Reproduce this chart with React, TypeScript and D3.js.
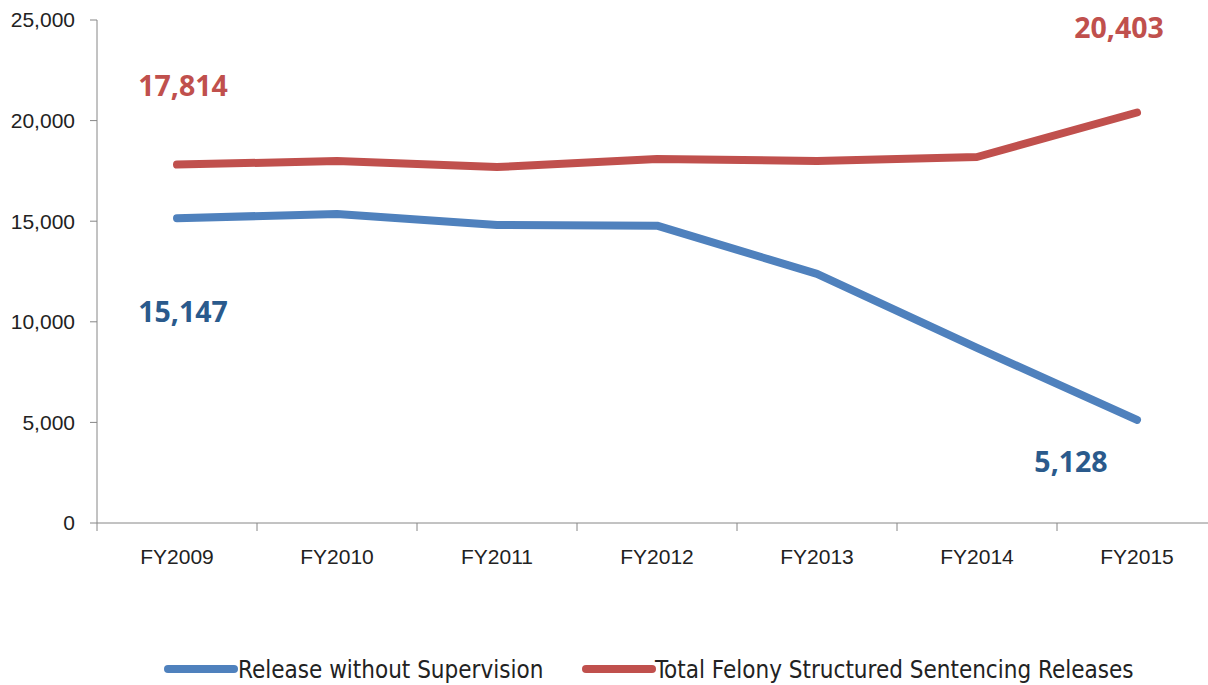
import React from "react";
import * as d3 from "d3";

const categories = ["FY2009", "FY2010", "FY2011", "FY2012", "FY2013", "FY2014", "FY2015"];
const releaseWithoutSupervision = [15147, 15360, 14810, 14780, 12380, 8700, 5128];
const totalReleases = [17814, 17990, 17690, 18090, 17990, 18190, 20403];
const yTicks = [0, 5000, 10000, 15000, 20000, 25000];
const seriesNames = ["Release without Supervision", "Total Felony Structured Sentencing Releases"];

const W = 1208, H = 685;
const left = 97, right = 1217, top = 20, bottom = 523;
const BLUE = "#4F81BD", RED = "#C0504D", BLUE_DARK = "#2A5A8C";
const AXIS_FONT = "'Liberation Sans', Arial, sans-serif";
const LEGEND_FONT = "'DejaVu Sans Condensed', 'Liberation Sans Narrow', sans-serif";
const LABEL_FONT = "'Open Sans', 'Noto Sans', sans-serif";

export default function App() {
  const x = d3.scaleBand<string>().domain(categories).range([left, right]);
  const y = d3.scaleLinear().domain([0, 25000]).range([bottom, top]);
  const cx = (c: string) => (x(c) as number) + x.bandwidth() / 2;
  const line = d3.line<number>().x((_, i) => cx(categories[i])).y((v) => y(v));
  const fmt = d3.format(",");
  const boundaries = categories.map((c) => x(c) as number).concat([right]);

  return (
    <svg width={W} height={H} style={{ position: "absolute", left: 0, top: 0, background: "#fff" }}>
      {/* axes */}
      <line x1={left} x2={left} y1={top} y2={bottom} stroke="#868686" strokeWidth={1} />
      <line x1={left} x2={right} y1={bottom} y2={bottom} stroke="#868686" strokeWidth={1} />
      {yTicks.map((t) => (
        <g key={t}>
          <line x1={left - 7} x2={left} y1={y(t)} y2={y(t)} stroke="#868686" />
          <text x={75} y={y(t)} dy="0.35em" textAnchor="end" fontSize={21} fontFamily={AXIS_FONT} fill="#222">
            {fmt(t)}
          </text>
        </g>
      ))}
      {boundaries.map((b, i) => (
        <line key={i} x1={b} x2={b} y1={bottom} y2={bottom + 8} stroke="#868686" />
      ))}
      {categories.map((c) => (
        <text key={c} x={cx(c)} y={564} textAnchor="middle" fontSize={21} fontFamily={AXIS_FONT} fill="#222">
          {c}
        </text>
      ))}
      {/* lines */}
      <path d={line(totalReleases) || ""} fill="none" stroke={RED} strokeWidth={8} strokeLinecap="round" strokeLinejoin="round" />
      <path d={line(releaseWithoutSupervision) || ""} fill="none" stroke={BLUE} strokeWidth={8} strokeLinecap="round" strokeLinejoin="round" />
      {/* data labels */}
      <text x={cx(categories[0]) + 6} y={96} textAnchor="middle" fontSize={28.5} fontWeight="bold" fontFamily={LABEL_FONT} fill={RED}>
        {fmt(totalReleases[0])}
      </text>
      <text x={cx(categories[0]) + 6} y={322} textAnchor="middle" fontSize={28.5} fontWeight="bold" fontFamily={LABEL_FONT} fill={BLUE_DARK}>
        {fmt(releaseWithoutSupervision[0])}
      </text>
      <text x={cx(categories[6]) - 18} y={38} textAnchor="middle" fontSize={28.5} fontWeight="bold" fontFamily={LABEL_FONT} fill={RED}>
        {fmt(totalReleases[6])}
      </text>
      <text x={cx(categories[6]) - 66} y={472} textAnchor="middle" fontSize={28.5} fontWeight="bold" fontFamily={LABEL_FONT} fill={BLUE_DARK}>
        {fmt(releaseWithoutSupervision[6])}
      </text>
      {/* legend */}
      <g>
        <line x1={168} x2={234} y1={669} y2={669} stroke={BLUE} strokeWidth={8} strokeLinecap="round" />
        <text x={238} y={670} dy="0.35em" fontSize={24} fontFamily={LEGEND_FONT} fill="#222">{seriesNames[0]}</text>
        <line x1={586} x2={652} y1={669} y2={669} stroke={RED} strokeWidth={8} strokeLinecap="round" />
        <text x={655} y={670} dy="0.35em" fontSize={24} fontFamily={LEGEND_FONT} fill="#222">{seriesNames[1]}</text>
      </g>
    </svg>
  );
}
